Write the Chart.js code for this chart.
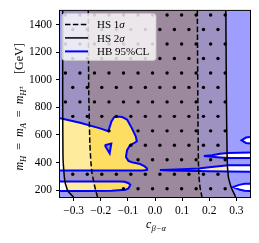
<!DOCTYPE html>
<html>
<head>
<meta charset="UTF-8">
<title>HS / HB constraints</title>
<script src="https://cdn.jsdelivr.net/npm/chart.js@4.4.0/dist/chart.umd.min.js"></script>
<style>
  html, body { margin: 0; padding: 0; background: #fff; }
  .chart-box { position: relative; width: 259px; height: 243px; }
</style>
</head>
<body>
<div class="chart-box"><canvas id="myChart"></canvas></div>
<script>
// axis ticks
const xTicks = [-0.3, -0.2, -0.1, 0.0, 0.1, 0.2, 0.3];
const yTicks = [200, 400, 600, 800, 1000, 1200, 1400];

// HS 2sigma (solid) and 1sigma (dashed) boundaries, top to bottom
const solidLx = [-0.340, -0.340, -0.339, -0.336, -0.332, -0.326, -0.320, -0.300];
const solidLy = [1500, 800, 440, 340, 262, 220, 190, 150];
const solidRx = [0.261, 0.263, 0.266, 0.270, 0.276, 0.282, 0.290, 0.297];
const solidRy = [1500, 900, 420, 300, 250, 214, 180, 150];
const dashLx = [-0.246, -0.244, -0.240, -0.236, -0.232, -0.222, -0.212];
const dashLy = [1500, 900, 540, 400, 322, 226, 150];
const dashRx = [0.156, 0.158, 0.160, 0.162, 0.166, 0.173];
const dashRy = [1500, 800, 400, 300, 220, 150];

// HB 95%CL contours: regions NOT excluded (islands)
const islAx = [-0.35, -0.276, -0.202, -0.172, -0.160, -0.150, -0.140, -0.121, -0.103, -0.085, -0.071, -0.067, -0.078, -0.092, -0.103, -0.107, -0.098, -0.085, -0.055, -0.038, -0.030, -0.029, -0.045, -0.10, -0.20, -0.30, -0.35];
const islAy = [722, 688, 648, 628, 700, 730, 734, 730, 712, 648, 590, 554, 540, 526, 490, 440, 412, 402, 389, 372, 358, 346, 342, 342, 342, 342, 342];
const islBx = [-0.35, -0.20, -0.13, -0.112, -0.097, -0.091, -0.098, -0.109, -0.16, -0.25, -0.35];
const islBy = [262, 262, 262, 261, 250, 238, 212, 202, 196, 194, 193];
const islR1x = [0.35, 0.335, 0.319, 0.335, 0.35];
const islR1y = [585, 581, 561, 542, 538];
const islR2x = [0.35, 0.268, 0.24, 0.21, 0.18, 0.21, 0.24, 0.268, 0.35];
const islR2y = [472, 470, 463, 453, 447, 442, 437, 433, 433];
const islR3x = [0.35, 0.27, 0.2, 0.16, 0.1, 0.05, 0.018, 0.05, 0.1, 0.16, 0.2, 0.27, 0.35];
const islR3y = [381, 380, 366, 356, 351, 348, 346, 343, 341, 339, 337, 335, 334];
const islR4x = [0.35, 0.33, 0.31, 0.288, 0.31, 0.33, 0.35];
const islR4y = [247, 246, 238, 222, 205, 196, 194];
// small excluded hole inside the big island
const holeX = [-0.185, -0.161, -0.167, -0.185];
const holeY = [526, 538, 466, 526];

// scan points
const dotRows = [1470, 1365, 1260, 1155, 1050, 945, 840, 735, 630, 525, 420, 315, 210];
const colsA = [-0.33, -0.2765, -0.223, -0.1695, -0.116, -0.0625, -0.009, 0.0445, 0.098, 0.1515, 0.205, 0.2585];
const colsB = [-0.303, -0.2495, -0.196, -0.1425, -0.089, -0.0355, 0.018, 0.0715, 0.125, 0.1785, 0.232];
const missingDots = [
    [630, -0.33], [630, -0.2765], [630, -0.223], [630, -0.116],
    [525, -0.303], [525, -0.2495], [525, -0.196], [525, -0.1425],
    [420, -0.33], [420, -0.2765], [420, -0.223], [420, -0.1695], [420, -0.116],
    [210, -0.33], [210, -0.2765], [210, -0.223], [210, -0.1695]
];

const pts = (xs, ys) => xs.map((x, i) => ({x: x, y: ys[i]}));
const rev = a => a.slice().reverse();

// excluded region = plot area minus the islands, traced as one outline
const hbX = [-0.35, 0.35, ...islR1x, ...islR2x, ...islR3x, ...islR4x, 0.35, -0.35, ...rev(islBx), ...rev(islAx)];
const hbY = [1500, 1500, ...islR1y, ...islR2y, ...islR3y, ...islR4y, 150, 150, ...rev(islBy), ...rev(islAy)];

const dots = [];
dotRows.forEach((r, k) => {
    const cols = (k % 2 === 0) ? colsA : colsB;
    cols.forEach(c => {
        if (!missingDots.some(m => m[0] === r && m[1] === c)) dots.push({x: c, y: r});
    });
});

const LIGHT_Y = 'rgb(254,236,156)';
const DARK_Y = 'rgb(254,222,98)';
const HB_FILL = 'rgba(0,0,255,0.38)';
const BLUE = '#0000ff';

function fillSet(data, color, order) {
    return {data: data, showLine: true, fill: 'shape', backgroundColor: color, borderWidth: 0, pointRadius: 0, order: order};
}
function lineSet(data, color, width, dash, order) {
    return {data: data, showLine: true, fill: false, borderColor: color, borderWidth: width, borderDash: dash, pointRadius: 0, tension: 0.2, order: order};
}

const contours = [[islAx, islAy], [islBx, islBy], [islR1x, islR1y], [islR2x, islR2y], [islR3x, islR3y], [islR4x, islR4y], [holeX, holeY]]
    .map(c => lineSet(pts(c[0], c[1]), BLUE, 2, [], 5));
contours.forEach(c => c.tension = 0);

const datasets = [
    fillSet([...pts(solidLx, solidLy), ...rev(pts(solidRx, solidRy))], LIGHT_Y, 10),
    fillSet([...pts(dashLx, dashLy), ...rev(pts(dashRx, dashRy))], DARK_Y, 9),
    fillSet(pts(hbX, hbY), HB_FILL, 8),
    fillSet(pts(holeX, holeY), HB_FILL, 7),
    ...contours,
    lineSet(pts(solidLx, solidLy), '#000', 1.5, [], 3),
    lineSet(pts(solidRx, solidRy), '#000', 1.5, [], 3),
    lineSet(pts(dashLx, dashLy), '#000', 1.5, [5.5, 2.4], 3),
    lineSet(pts(dashRx, dashRy), '#000', 1.5, [5.5, 2.4], 3),
    {data: dots, showLine: false, pointRadius: 1.7, pointBackgroundColor: '#000', pointBorderWidth: 0, order: 1}
];

const SERIF = 'Liberation Serif';

// draws a run of text pieces: [text, size, italic, dy]
function drawRich(ctx, parts, x, y, angle, center) {
    ctx.save();
    ctx.translate(x, y);
    ctx.rotate(angle);
    ctx.textBaseline = 'alphabetic';
    ctx.fillStyle = '#000';
    let total = 0;
    parts.forEach(p => {
        ctx.font = (p[2] ? 'italic ' : '') + p[1] + 'px "' + SERIF + '"';
        p.w = ctx.measureText(p[0]).width;
        total += p.w;
    });
    let cx = center ? -total / 2 : 0;
    parts.forEach(p => {
        ctx.font = (p[2] ? 'italic ' : '') + p[1] + 'px "' + SERIF + '"';
        ctx.fillText(p[0], cx, p[3]);
        cx += p.w;
    });
    ctx.restore();
}

const decor = {
    id: 'decor',
    afterDatasetsDraw(chart) {
        const ctx = chart.ctx, ca = chart.chartArea;
        // legend box
        const bx = ca.left + 2, by = ca.top + 2.5, bw = 94, bh = 47;
        ctx.save();
        ctx.globalAlpha = 0.8;
        ctx.beginPath();
        ctx.roundRect(bx, by, bw, bh, 3);
        ctx.fillStyle = '#fff';
        ctx.fill();
        ctx.strokeStyle = '#ccc';
        ctx.lineWidth = 1;
        ctx.stroke();
        ctx.globalAlpha = 1;
        const entries = [
            {dash: [5.5, 2.4], color: '#000', label: [['HS 1', 11, false, 0], ['\u03c3', 11, true, 0]]},
            {dash: [], color: '#000', label: [['HS 2', 11, false, 0], ['\u03c3', 11, true, 0]]},
            {dash: [], color: BLUE, label: [['HB 95%CL', 11, false, 0]]}
        ];
        entries.forEach((e, i) => {
            const ey = by + 11 + i * 13.5;
            ctx.beginPath();
            ctx.setLineDash(e.dash);
            ctx.strokeStyle = e.color;
            ctx.lineWidth = e.color === BLUE ? 2 : 1.5;
            ctx.moveTo(bx + 3, ey);
            ctx.lineTo(bx + 26, ey);
            ctx.stroke();
            ctx.setLineDash([]);
            drawRich(ctx, e.label, bx + 35, ey + 4, 0, false);
        });
        ctx.restore();
    },
    afterDraw(chart) {
        const ctx = chart.ctx, ca = chart.chartArea;
        ctx.save();
        ctx.strokeStyle = '#000';
        ctx.lineWidth = 1;
        ctx.strokeRect(ca.left - 0.5, ca.top - 0.5, ca.right - ca.left + 1, ca.bottom - ca.top + 1);
        ctx.restore();
        // y axis title
        drawRich(ctx, [
            ['m', 12, true, 0], ['H', 8.5, true, 3],
            ['\u2002=\u2002', 12, false, 0],
            ['m', 12, true, 0], ['A', 8.5, true, 3],
            ['\u2002=\u2002', 12, false, 0],
            ['m', 12, true, 0], ['H', 8.5, true, 3], ['\u00b1', 6.5, false, -0.5],
            ['\u2003[GeV]', 12, false, 0]
        ], 23, (ca.top + ca.bottom) / 2 + 3, -Math.PI / 2, true);
        // x axis title
        drawRich(ctx, [['c', 12, true, 0], ['\u03b2\u2212\u03b1', 8.5, true, 3]], (ca.left + ca.right) / 2 + 1, 228, 0, true);
    }
};

const fmtX = v => (v < 0 ? '\u2212' : '') + Math.abs(v).toFixed(1);

const ctx = document.getElementById('myChart').getContext('2d');
new Chart(ctx, {
    type: 'scatter',
    data: {datasets: datasets},
    options: {
        responsive: true,
        maintainAspectRatio: false,
        animation: false,
        devicePixelRatio: 1,
        layout: {padding: {top: 9, right: 9, left: 0, bottom: 0}},
        plugins: {legend: {display: false}, tooltip: {enabled: false}},
        scales: {
            x: {
                type: 'linear', min: -0.35, max: 0.35,
                afterBuildTicks: s => { s.ticks = xTicks.map(v => ({value: v})); },
                afterFit: s => { s.height = 46; },
                grid: {drawOnChartArea: false, tickLength: 4, color: '#000'},
                border: {display: false},
                ticks: {color: '#000', font: {family: SERIF, size: 11.5}, padding: 3, maxRotation: 0, callback: v => fmtX(v)}
            },
            y: {
                type: 'linear', min: 150, max: 1500,
                afterBuildTicks: s => { s.ticks = yTicks.map(v => ({value: v})); },
                afterFit: s => { s.width = 60; },
                grid: {drawOnChartArea: false, tickLength: 4, color: '#000'},
                border: {display: false},
                ticks: {color: '#000', font: {family: SERIF, size: 11.5}, padding: 4, callback: v => String(v)}
            }
        }
    },
    plugins: [decor]
});
</script>
</body>
</html>
